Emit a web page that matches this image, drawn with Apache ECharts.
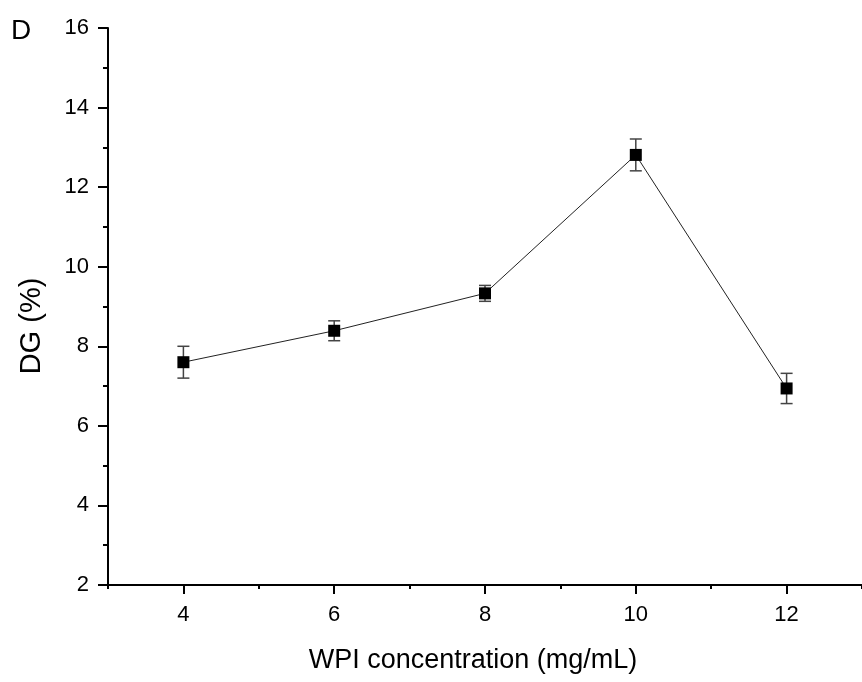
<!DOCTYPE html>
<html>
<head>
<meta charset="utf-8">
<script src="https://cdn.jsdelivr.net/npm/echarts@6/dist/echarts.min.js"></script>
<style>html,body{margin:0;padding:0;background:#fff;}#c{width:862px;height:682px;}</style>
</head>
<body>
<div id="c"></div>
<script>
// Data
var concentrations = [4, 6, 8, 10, 12];
var dgValues = [7.60, 8.39, 9.33, 12.81, 6.94];
var dgErrors = [0.40, 0.25, 0.20, 0.40, 0.38];
var xMajorTicks = [4, 6, 8, 10, 12];
var xMinorTicks = [3, 5, 7, 9, 11, 13];
var panelLabel = 'D';
var xTitle = 'WPI concentration (mg/mL)';
var yTitle = 'DG (%)';

var FONT = '"Liberation Sans", Arial, sans-serif';
var chart = echarts.init(document.getElementById('c'), null, {renderer: 'canvas'});

var pts = concentrations.map(function (x, i) { return [x, dgValues[i]]; });
var errData = concentrations.map(function (x, i) {
  return [x, dgValues[i] - dgErrors[i], dgValues[i] + dgErrors[i]];
});

chart.setOption({
  animation: false,
  backgroundColor: '#ffffff',
  grid: {left: 108, top: 28, right: 0, bottom: 97, containLabel: false},
  xAxis: [{
    type: 'value', min: 3, max: 13, interval: 1,
    axisLine: {show: true, lineStyle: {color: '#000', width: 2}},
    axisTick: {show: true, inside: false, length: 9, customValues: xMajorTicks, lineStyle: {color: '#000', width: 2}},
    axisLabel: {show: true, customValues: xMajorTicks, margin: 19, color: '#000', fontSize: 22, fontFamily: FONT},
    splitLine: {show: false}
  }, {
    type: 'value', min: 3, max: 13, interval: 1, position: 'bottom',
    axisLine: {show: false},
    axisTick: {show: true, inside: false, length: 4, customValues: xMinorTicks, lineStyle: {color: '#000', width: 2}},
    axisLabel: {show: false},
    splitLine: {show: false}
  }],
  yAxis: {
    type: 'value', min: 2, max: 16, interval: 2,
    axisLine: {show: true, lineStyle: {color: '#000', width: 2}},
    axisTick: {show: true, inside: false, length: 10, lineStyle: {color: '#000', width: 2}},
    minorTick: {show: true, splitNumber: 2, length: 5, lineStyle: {color: '#000', width: 2}},
    axisLabel: {margin: 19, color: '#000', fontSize: 22, fontFamily: FONT},
    splitLine: {show: false}
  },
  graphic: [
    {type: 'text', x: 11, y: 31, style: {text: panelLabel, font: '28px ' + FONT, fill: '#000', align: 'left', verticalAlign: 'middle'}},
    {type: 'text', x: 473, y: 661, style: {text: xTitle, font: '27px ' + FONT, fill: '#000', align: 'center', verticalAlign: 'middle'}},
    {type: 'text', x: 32, y: 326, rotation: Math.PI / 2, style: {text: yTitle, font: '29px ' + FONT, fill: '#000', align: 'center', verticalAlign: 'middle'}}
  ],
  series: [{
    type: 'custom',
    z: 1,
    data: errData,
    renderItem: function (params, api) {
      var x = api.value(0);
      var lo = api.coord([x, api.value(1)]);
      var hi = api.coord([x, api.value(2)]);
      var hw = 6;
      var st = {stroke: '#444', lineWidth: 1.5};
      return {type: 'group', children: [
        {type: 'line', shape: {x1: lo[0], y1: lo[1], x2: hi[0], y2: hi[1]}, style: st},
        {type: 'line', shape: {x1: lo[0] - hw, y1: lo[1], x2: lo[0] + hw, y2: lo[1]}, style: st},
        {type: 'line', shape: {x1: hi[0] - hw, y1: hi[1], x2: hi[0] + hw, y2: hi[1]}, style: st}
      ]};
    }
  }, {
    type: 'line',
    z: 2,
    data: pts,
    symbol: 'rect',
    symbolSize: 12,
    lineStyle: {color: '#222', width: 1},
    itemStyle: {color: '#000', borderWidth: 0},
    emphasis: {disabled: true}
  }]
});
</script>
</body>
</html>
